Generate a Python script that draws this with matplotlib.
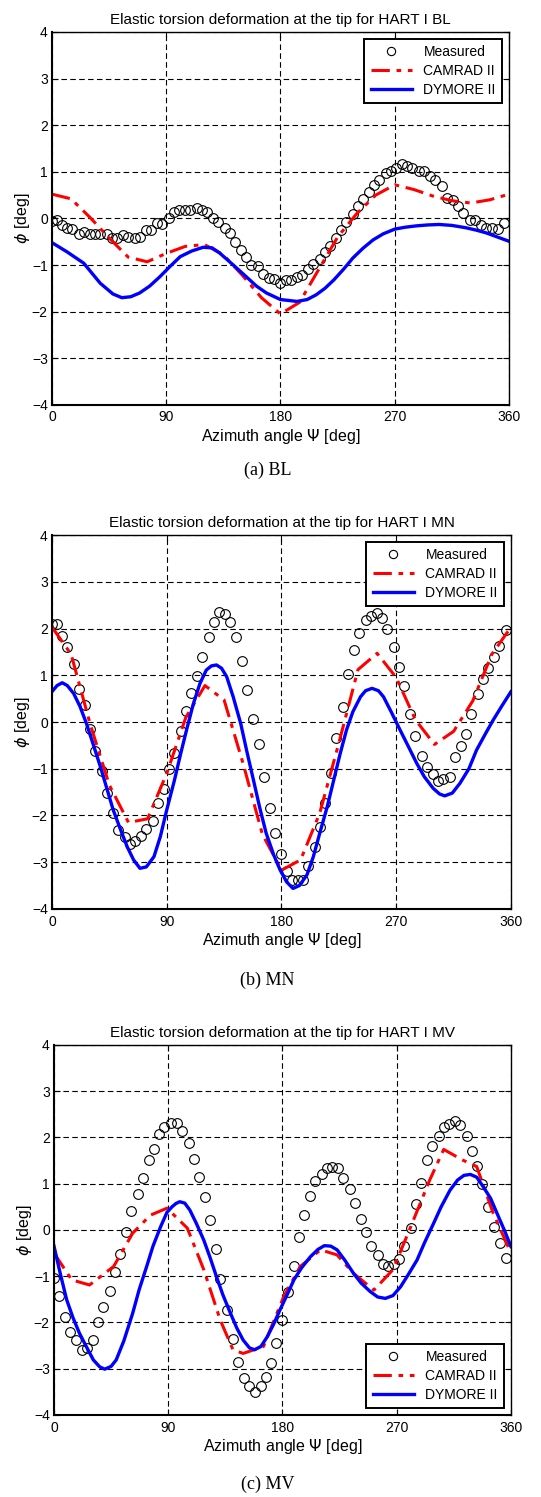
import numpy as np
import matplotlib
matplotlib.use('Agg')
import matplotlib.pyplot as plt

plt.rcParams['font.family'] = ['Liberation Sans', 'DejaVu Sans']

# ---- HART I BL ----
bl_meas_psi = [0, 4, 8, 12, 16, 21, 25, 30, 34, 38, 43, 47, 51, 56, 60, 65, 69, 74, 78,
               83, 87, 92, 96, 100, 105, 109, 114, 118, 122, 127, 131, 136, 140, 144,
               149, 153, 157, 162, 166, 171, 175, 180, 184, 188, 193, 197, 202, 206,
               211, 215, 219, 224, 228, 232, 237, 241, 245, 250, 254, 258, 263, 267,
               271, 276, 280, 284, 289, 293, 298, 302, 307, 311, 316, 320, 324, 329,
               333, 338, 342, 347, 351, 356]
bl_meas_phi = [-0.06, -0.03, -0.14, -0.21, -0.23, -0.34, -0.29, -0.34, -0.34, -0.34,
               -0.34, -0.41, -0.43, -0.36, -0.40, -0.43, -0.39, -0.24, -0.24, -0.09,
               -0.13, 0.00, 0.13, 0.17, 0.19, 0.17, 0.23, 0.17, 0.13, 0.01, -0.07,
               -0.20, -0.31, -0.50, -0.67, -0.82, -0.99, -1.03, -1.20, -1.27, -1.30,
               -1.39, -1.32, -1.33, -1.25, -1.22, -1.09, -0.97, -0.86, -0.73, -0.60,
               -0.42, -0.24, -0.07, 0.10, 0.26, 0.42, 0.57, 0.72, 0.83, 0.97, 1.01,
               1.08, 1.16, 1.12, 1.09, 1.02, 1.02, 0.92, 0.83, 0.69, 0.44, 0.39, 0.27,
               0.11, -0.04, -0.03, -0.14, -0.20, -0.21, -0.23, -0.09]
bl_camrad_psi = [0, 15, 30, 45, 60, 75, 90, 105, 120, 135, 150, 165, 180, 195, 210,
                 225, 240, 255, 270, 285, 300, 315, 330, 345, 360]
bl_camrad_phi = [0.52, 0.42, 0.02, -0.42, -0.83, -0.93, -0.75, -0.60, -0.56, -0.78,
                 -1.22, -1.70, -2.05, -1.80, -1.10, -0.40, 0.10, 0.50, 0.72, 0.62,
                 0.48, 0.38, 0.33, 0.40, 0.52]
bl_dymore_psi = [0, 12, 25, 38, 48, 55, 62, 69, 77, 85, 93, 101, 110, 119, 126, 132,
                 142, 153, 161, 169, 180, 193, 201, 208, 215, 222, 230, 237, 245, 253,
                 261, 270, 278, 287, 296, 305, 315, 326, 334, 342, 350, 360]
bl_dymore_phi = [-0.52, -0.72, -0.96, -1.39, -1.62, -1.70, -1.68, -1.60, -1.45, -1.25,
                 -1.03, -0.82, -0.70, -0.62, -0.63, -0.74, -0.98, -1.25, -1.45, -1.60,
                 -1.74, -1.78, -1.74, -1.64, -1.50, -1.32, -1.08, -0.85, -0.64, -0.46,
                 -0.33, -0.23, -0.19, -0.16, -0.14, -0.13, -0.15, -0.20, -0.25, -0.31,
                 -0.39, -0.49]

# ---- HART I MN ----
mn_meas_psi = [0, 4, 8, 12, 17, 21, 26, 30, 34, 39, 43, 48, 52, 57, 61, 65, 70, 74,
               79, 83, 88, 92, 96, 101, 105, 109, 114, 118, 123, 127, 131, 136, 140,
               144, 149, 153, 158, 162, 166, 171, 175, 180, 184, 188, 193, 197, 201,
               206, 210, 214, 219, 223, 228, 232, 237, 241, 246, 250, 255, 259, 263,
               268, 272, 276, 281, 285, 290, 294, 299, 303, 307, 312, 316, 321, 325,
               329, 334, 338, 342, 347, 351, 356]
mn_meas_phi = [2.09, 2.09, 1.83, 1.60, 1.25, 0.70, 0.36, -0.14, -0.63, -1.05, -1.51,
               -1.95, -2.30, -2.47, -2.60, -2.55, -2.43, -2.29, -2.12, -1.73, -1.43,
               -1.00, -0.66, -0.20, 0.24, 0.61, 0.99, 1.38, 1.81, 2.13, 2.35, 2.31,
               2.13, 1.81, 1.31, 0.68, 0.07, -0.47, -1.17, -1.83, -2.38, -2.83, -3.18,
               -3.38, -3.38, -3.37, -3.09, -2.67, -2.24, -1.74, -1.10, -0.35, 0.33,
               1.03, 1.53, 1.90, 2.18, 2.27, 2.34, 2.22, 1.99, 1.60, 1.17, 0.76, 0.17,
               -0.29, -0.73, -0.96, -1.12, -1.26, -1.23, -1.17, -0.74, -0.51, -0.26,
               0.17, 0.59, 0.92, 1.15, 1.40, 1.63, 1.97]
mn_camrad_psi = [0, 15, 30, 45, 60, 75, 90, 105, 120, 135, 150, 165, 180, 195, 210,
                 225, 240, 255, 270, 285, 300, 315, 330, 345, 360]
mn_camrad_phi = [2.03, 1.45, -0.05, -1.35, -2.15, -2.07, -1.10, 0.10, 0.78, 0.47,
                 -0.90, -2.40, -3.17, -2.95, -1.95, -0.45, 1.12, 1.47, 0.95, 0.05,
                 -0.48, -0.20, 0.45, 1.45, 2.03]
mn_dymore_psi = [0, 4, 8, 12, 17, 22, 27, 32, 38, 43, 48, 54, 59, 64, 69, 74, 80, 85,
                 90, 96, 101, 106, 111, 116, 121, 125, 129, 133, 137, 142, 148, 153,
                 158, 163, 168, 174, 179, 184, 189, 194, 200, 205, 210, 216, 221, 226,
                 231, 236, 242, 246, 251, 256, 260, 266, 273, 280, 286, 292, 299, 304,
                 308, 314, 320, 327, 333, 340, 346, 353, 360]
mn_dymore_phi = [0.65, 0.78, 0.84, 0.78, 0.61, 0.33, -0.03, -0.45, -0.96, -1.42,
                 -1.88, -2.32, -2.67, -2.95, -3.13, -3.10, -2.88, -2.45, -1.88, -1.25,
                 -0.67, -0.12, 0.40, 0.82, 1.11, 1.20, 1.22, 1.15, 0.97, 0.55, -0.03,
                 -0.65, -1.24, -1.84, -2.38, -2.85, -3.17, -3.42, -3.56, -3.50, -3.27,
                 -2.88, -2.38, -1.80, -1.24, -0.68, -0.17, 0.22, 0.54, 0.67, 0.72,
                 0.67, 0.54, 0.22, -0.17, -0.55, -0.88, -1.17, -1.42, -1.54, -1.58,
                 -1.52, -1.31, -1.00, -0.60, -0.25, 0.04, 0.35, 0.65]

# ---- HART I MV ----
mv_meas_psi = [0, 4, 9, 13, 17, 22, 26, 31, 35, 39, 44, 48, 52, 57, 61, 66, 70, 75,
               79, 83, 87, 92, 97, 101, 106, 110, 114, 119, 123, 128, 131, 136, 141,
               145, 150, 154, 158, 163, 167, 171, 175, 180, 184, 189, 193, 197, 202,
               206, 211, 215, 219, 224, 228, 233, 237, 242, 246, 250, 255, 259, 263,
               268, 272, 276, 281, 285, 289, 294, 298, 303, 307, 311, 316, 320, 325,
               329, 333, 337, 342, 347, 351, 356]
mv_meas_phi = [-1.03, -1.42, -1.89, -2.21, -2.39, -2.59, -2.56, -2.39, -1.98, -1.66,
               -1.33, -0.92, -0.52, -0.04, 0.42, 0.78, 1.12, 1.51, 1.75, 2.08, 2.23,
               2.32, 2.32, 2.13, 1.87, 1.54, 1.15, 0.71, 0.22, -0.41, -1.07, -1.73,
               -2.35, -2.85, -3.21, -3.37, -3.51, -3.37, -3.18, -2.88, -2.45, -1.95,
               -1.35, -0.79, -0.16, 0.32, 0.74, 1.05, 1.21, 1.33, 1.35, 1.33, 1.12,
               0.88, 0.59, 0.23, -0.04, -0.34, -0.54, -0.74, -0.77, -0.74, -0.63,
               -0.34, 0.05, 0.56, 1.02, 1.51, 1.82, 2.04, 2.22, 2.28, 2.36, 2.26,
               2.03, 1.70, 1.38, 0.99, 0.49, 0.06, -0.29, -0.61]
mv_camrad_psi = [0, 14, 28, 47, 62, 76, 89, 105, 118, 131, 141, 149, 165, 181, 194,
                 210, 223, 236, 252, 267, 280, 296, 307, 322, 333, 346, 360]
mv_camrad_phi = [-0.50, -1.08, -1.19, -0.79, -0.07, 0.32, 0.47, 0.04, -0.86, -1.95,
                 -2.59, -2.67, -2.52, -1.44, -0.79, -0.43, -0.54, -0.94, -1.30, -0.86,
                 0.00, 1.08, 1.74, 1.51, 1.37, 0.36, -0.50]
mv_dymore_psi = [0, 5, 10, 15, 20, 26, 31, 36, 40, 45, 49, 55, 62, 67, 73, 78, 84,
                 89, 93, 96, 99, 103, 107, 112, 118, 123, 128, 133, 139, 144, 149,
                 154, 158, 163, 168, 173, 178, 184, 189, 195, 202, 208, 213, 218, 223,
                 229, 236, 242, 249, 255, 261, 267, 273, 279, 286, 292, 299, 305, 312,
                 318, 323, 328, 333, 338, 344, 349, 355, 360]
mv_dymore_phi = [-0.35, -0.95, -1.51, -1.90, -2.23, -2.55, -2.81, -2.96, -3.01, -2.95,
                 -2.81, -2.40, -1.80, -1.30, -0.79, -0.35, 0.07, 0.38, 0.50, 0.57, 0.61,
                 0.58, 0.43, 0.15, -0.22, -0.60, -1.01, -1.40, -1.80, -2.12, -2.38,
                 -2.55, -2.59, -2.52, -2.31, -2.04, -1.73, -1.38, -1.08, -0.82, -0.58,
                 -0.42, -0.34, -0.35, -0.43, -0.65, -0.94, -1.15, -1.33, -1.45, -1.48,
                 -1.42, -1.23, -0.97, -0.65, -0.27, 0.14, 0.50, 0.86, 1.08, 1.18, 1.20,
                 1.14, 0.94, 0.68, 0.36, -0.02, -0.36]

cases = ['BL', 'MN', 'MV']
captions = ['(a) BL', '(b) MN', '(c) MV']
panels = [
    (bl_meas_psi, bl_meas_phi, bl_camrad_psi, bl_camrad_phi, bl_dymore_psi, bl_dymore_phi),
    (mn_meas_psi, mn_meas_phi, mn_camrad_psi, mn_camrad_phi, mn_dymore_psi, mn_dymore_phi),
    (mv_meas_psi, mv_meas_phi, mv_camrad_psi, mv_camrad_phi, mv_dymore_psi, mv_dymore_phi),
]

# axes rectangles in figure fractions and legend corners
rects = [[0.0961, 0.7295, 0.8447, 0.2492],
         [0.0961, 0.3928, 0.8484, 0.2498],
         [0.0998, 0.0548, 0.8447, 0.2472]]
legend_locs = ['upper right', 'upper right', 'lower right']
caption_y = [0.686, 0.3454, 0.0085]

fig = plt.figure(figsize=(5.41, 14.97), dpi=100)

for i, case in enumerate(cases):
    m_x, m_y, c_x, c_y, d_x, d_y = panels[i]
    ax = fig.add_axes(rects[i])

    ax.plot(m_x, m_y, 'o', mfc='none', mec='black', mew=0.8, ms=7, label='Measured')
    ax.plot(c_x, c_y, color='red', lw=2.2, dashes=(6, 2.2, 1.5, 2.2), label='CAMRAD II')
    ax.plot(d_x, d_y, color='blue', lw=2.4, label='DYMORE II')

    ax.set_xlim(0, 360)
    ax.set_ylim(-4, 4)
    ax.set_xticks([0, 90, 180, 270, 360])
    ax.set_yticks(np.arange(-4, 5, 1))
    ax.grid(True, color='black', lw=0.8, dashes=(5, 3))
    ax.tick_params(direction='in', length=4, width=0.8, labelsize=10,
                   top=True, right=True)
    ax.tick_params(axis='x', pad=4)
    ax.tick_params(axis='y', pad=3)
    ax.spines['left'].set_linewidth(1.5)
    ax.spines['bottom'].set_linewidth(1.5)
    ax.spines['top'].set_linewidth(1.0)
    ax.spines['right'].set_linewidth(1.0)

    ax.set_title('Elastic torsion deformation at the tip for HART I ' + case,
                 fontsize=11, pad=6)
    ax.set_xlabel('Azimuth angle $\\Psi$ [deg]', fontsize=11.5, labelpad=2)
    ax.set_ylabel('$\\phi$ [deg]', fontsize=11.5, labelpad=0)

    leg = ax.legend(loc=legend_locs[i], fontsize=10, fancybox=False, framealpha=1,
                    edgecolor='black', borderaxespad=0.5, handlelength=3.0,
                    labelspacing=0.35, borderpad=0.45, markerscale=0.85)
    leg.get_frame().set_linewidth(1.4)

    fig.text(0.494, caption_y[i], captions[i], ha='center', va='center',
             fontsize=13, family='Liberation Serif')

fig.savefig('out.png', dpi=100)
